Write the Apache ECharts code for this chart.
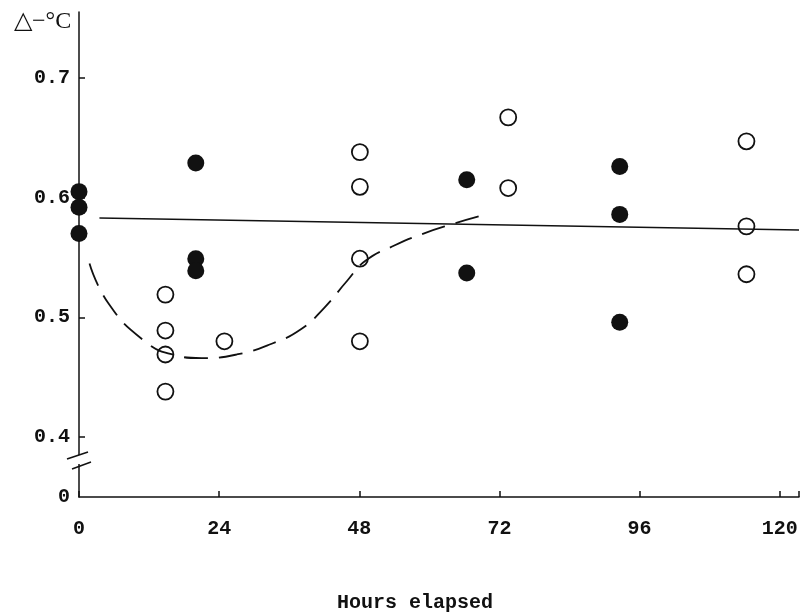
<!DOCTYPE html>
<html>
<head>
<meta charset="utf-8">
<script src="https://cdn.jsdelivr.net/npm/echarts@6/dist/echarts.min.js"></script>
<style>
  html, body { margin: 0; padding: 0; background: #fff; }
  #chart { width: 802px; height: 615px; }
</style>
</head>
<body>
<div id="chart"></div>
<script>
// hours, value  (0.35 on the value scale is drawn as the broken "0")
var filledPoints = [
  [0, 0.605], [0, 0.592], [0, 0.570],
  [20, 0.629], [20, 0.549], [20, 0.539],
  [66.4, 0.615], [66.4, 0.537],
  [92.6, 0.626], [92.6, 0.586], [92.6, 0.496]
];
var openPoints = [
  [14.8, 0.519], [14.8, 0.489], [14.8, 0.469], [14.8, 0.438],
  [24.9, 0.480],
  [48.1, 0.638], [48.1, 0.609], [48.1, 0.549], [48.1, 0.480],
  [73.5, 0.667], [73.5, 0.608],
  [114.3, 0.647], [114.3, 0.576], [114.3, 0.536]
];
var meanLine = [[3.5, 0.583], [123.3, 0.573]];
var dashedCurve = [
  [1.8, 0.545], [5, 0.512], [11, 0.481], [16, 0.469], [21, 0.466],
  [27, 0.469], [33, 0.478], [38, 0.490], [42, 0.508], [46, 0.531],
  [49, 0.547], [54, 0.560], [59, 0.570], [64, 0.578], [69, 0.585]
];
var xTicks = [0, 24, 48, 72, 96, 120];
var yTickValues = [0.4, 0.5, 0.6, 0.7];
var yZeroValue = 0.35;

var font = 'Liberation Mono';
var chart = echarts.init(document.getElementById('chart'));
chart.setOption({
  backgroundColor: '#fff',
  animation: false,
  title: [
    {
      text: '△−°C',
      left: 9, top: 5,
      textStyle: { fontFamily: 'Liberation Serif', fontSize: 24, fontWeight: 'normal', color: '#111' }
    },
    {
      text: 'Hours elapsed',
      left: 332, top: 588,
      textStyle: { fontFamily: font, fontSize: 20, fontWeight: 'bold', color: '#111' }
    }
  ],
  grid: { left: 79, right: 2, top: 12, bottom: 118 },
  xAxis: {
    type: 'value',
    min: 0,
    max: 123.3,
    interval: 24,
    splitLine: { show: false },
    axisLine: { lineStyle: { color: '#111', width: 1.5 } },
    axisTick: { inside: true, length: 6, lineStyle: { color: '#111', width: 1.5 } },
    axisLabel: {
      margin: 22,
      color: '#111',
      fontFamily: font,
      fontSize: 20,
      fontWeight: 'bold',
      formatter: function (v) { return xTicks.indexOf(v) >= 0 ? String(v) : ''; }
    }
  },
  yAxis: {
    type: 'value',
    min: yZeroValue,
    max: 0.755,
    splitLine: { show: false },
    axisLine: { lineStyle: { color: '#111', width: 1.5 } },
    axisTick: {
      inside: true, length: 6,
      customValues: yTickValues,
      lineStyle: { color: '#111', width: 1.5 }
    },
    axisLabel: {
      margin: 9,
      color: '#111',
      fontFamily: font,
      fontSize: 20,
      fontWeight: 'bold',
      customValues: [yZeroValue].concat(yTickValues),
      formatter: function (v) { return Math.abs(v - yZeroValue) < 1e-6 ? '0' : v.toFixed(1); }
    }
  },
  graphic: [
    { type: 'rect', shape: { x: 75, y: 455, width: 10, height: 9 }, style: { fill: '#fff' }, z: 100 },
    { type: 'line', shape: { x1: 67, y1: 459, x2: 88, y2: 452 }, style: { stroke: '#111', lineWidth: 1.5 }, z: 101 },
    { type: 'line', shape: { x1: 72, y1: 469, x2: 91, y2: 462 }, style: { stroke: '#111', lineWidth: 1.5 }, z: 101 }
  ],
  series: [
    {
      type: 'line',
      data: meanLine,
      symbol: 'none',
      lineStyle: { color: '#111', width: 1.5 }
    },
    {
      type: 'line',
      data: dashedCurve,
      smooth: true,
      symbol: 'none',
      lineStyle: { color: '#111', width: 1.8, type: [24, 11] }
    },
    {
      type: 'scatter',
      data: openPoints,
      symbolSize: 16,
      itemStyle: { color: '#fff', borderColor: '#111', borderWidth: 1.8, opacity: 1 }
    },
    {
      type: 'scatter',
      data: filledPoints,
      symbolSize: 17,
      itemStyle: { color: '#111', opacity: 1 }
    }
  ]
});
</script>
</body>
</html>
